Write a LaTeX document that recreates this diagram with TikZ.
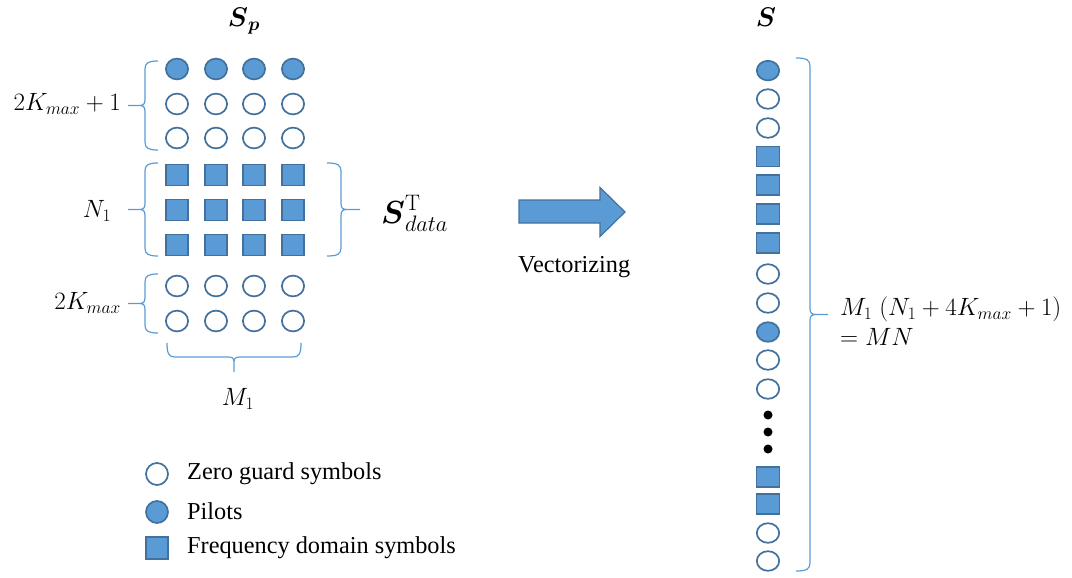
\RequirePackage{fix-cm}
\documentclass[tikz,border=0pt]{standalone}
\usepackage{amsmath}
\usepackage[no-math]{fontspec}
\setmainfont{Liberation Serif}
\definecolor{symfill}{HTML}{5B9BD5}
\definecolor{symline}{HTML}{41719C}
\definecolor{bracecol}{HTML}{5B9BD5}
\usetikzlibrary{shapes.geometric}

\tikzset{
  zero/.style={ellipse, draw=symline, line width=1.7pt, fill=white, minimum width=22.2pt, minimum height=20.8pt, inner sep=0pt},
  pilot/.style={zero, fill=symfill},
  freq/.style={rectangle, draw=symline, line width=1.7pt, fill=symfill, minimum width=22.2pt, minimum height=21pt, inner sep=0pt},
  vzero/.style={zero, minimum width=22.4pt, minimum height=19.6pt},
  vpilot/.style={vzero, fill=symfill},
  vfreq/.style={freq, minimum width=23pt, minimum height=19.8pt},
  dotmark/.style={circle, fill=black, minimum size=9pt, inner sep=0pt},
  mathlbl/.style={font=\fontsize{25}{29}\selectfont, inner sep=0pt},
  txtlbl/.style={font=\rmfamily\fontsize{24.3}{28}\selectfont, inner sep=0pt},
  brc/.style={draw=bracecol, line width=1.2pt},
}

% vertical curly brace: line at x=#1 from #2 to #3, tip reaching x=#4,
% end hooks of signed length #5 (positive: hooks point right)
\newcommand{\vbrace}[5]{%
  \pgfmathsetmacro\bm{(#2+#3)/2}%
  \pgfmathsetmacro\hk{#1+#5}%
  \pgfmathsetmacro\hc{#1+#5*0.25}%
  \pgfmathsetmacro\tc{#1-#5*0.15}%
  \pgfmathsetmacro\tb{#1-#5*0.45}%
  \draw[brc] (\hk,#2) .. controls (\hc,#2) and (#1,#2+2) .. (#1,#2+8)
    -- (#1,\bm-6) .. controls (#1,\bm-1) and (\tc,\bm) .. (\tb,\bm) -- (#4,\bm)
    (\tb,\bm) .. controls (\tc,\bm) and (#1,\bm+1) .. (#1,\bm+6)
    -- (#1,#3-8) .. controls (#1,#3-2) and (\hc,#3) .. (\hk,#3);
}

\begin{document}
\begin{tikzpicture}[x=1pt, y=-1pt]
\useasboundingbox (0,0) rectangle (1072,578);

% ---- frame S_p ----
\node[font=\fontsize{27}{31}\selectfont, inner sep=0pt] (sp) at (244,21) {$\boldsymbol{S}_{\boldsymbol{p}}$};

\foreach \c [count=\i] in {177,216,254,293} {
  \node[pilot] (a\i) at (\c,69) {};
  \node[zero]  (b\i) at (\c,104) {};
  \node[zero]  (c\i) at (\c,138) {};
  \node[freq]  (d\i) at (\c,175) {};
  \node[freq]  (e\i) at (\c,210) {};
  \node[freq]  (f\i) at (\c,245) {};
  \node[zero]  (g\i) at (\c,286) {};
  \node[zero]  (h\i) at (\c,321) {};
}

% braces around the frame
\vbrace{145}{61}{150}{128}{13}
\vbrace{145}{163}{256}{128}{13}
\vbrace{145}{274}{333}{128}{13}
\vbrace{341}{163}{256}{360}{-14}
\draw[brc] (167,343) .. controls (167,354) and (169,357) .. (175,357) -- (228,357)
  .. controls (232,357) and (234,358) .. (234,362) -- (234,372)
  (234,362) .. controls (234,358) and (236,357) .. (240,357) -- (293,357)
  .. controls (299,357) and (301,354) .. (301,343);

\node[mathlbl, anchor=east] (lk1) at (121,104) {$2K_{max}+1$};
\node[mathlbl] (ln1) at (97,211) {$N_1$};
\node[mathlbl, anchor=east] (lk2) at (121,303) {$2K_{max}$};
\node[mathlbl] (lm1) at (238,399) {$M_1$};
\node[font=\fontsize{32}{36}\selectfont, inner sep=0pt, anchor=west] (sd) at (381,213) {$\boldsymbol{S}_{data}^{\mathrm{T}}$};

% ---- vectorizing arrow ----
\draw[fill=symfill, draw=symline, line width=1.2pt]
  (519,200) -- (600,200) -- (600,187.5) -- (625,212) -- (600,236.5) -- (600,223) -- (519,223) -- cycle;
\node[txtlbl, anchor=west] (vec) at (518,267) {Vectorizing};

% ---- vector S ----
\node[font=\fontsize{27}{31}\selectfont, inner sep=0pt] (s) at (766,17) {$\boldsymbol{S}$};
\node[vpilot] (v1) at (768,70.6) {};
\node[vzero]  (v2) at (768,99) {};
\node[vzero]  (v3) at (768,128) {};
\node[vfreq]  (v4) at (768,156.5) {};
\node[vfreq]  (v5) at (768,185) {};
\node[vfreq]  (v6) at (768,214) {};
\node[vfreq]  (v7) at (768,243) {};
\node[vzero]  (v8) at (768,274) {};
\node[vzero]  (v9) at (768,303) {};
\node[vpilot] (v10) at (768,332) {};
\node[vzero]  (v11) at (768,360) {};
\node[vzero]  (v12) at (768,389) {};
\node[dotmark] (dt1) at (768,415) {};
\node[dotmark] (dt2) at (768,432) {};
\node[dotmark] (dt3) at (768,449) {};
\node[vfreq]  (v13) at (768,477) {};
\node[vfreq]  (v14) at (768,504) {};
\node[vzero]  (v15) at (768,533) {};
\node[vzero]  (v16) at (768,561) {};

\vbrace{810}{58}{571}{828}{-14}
\node[mathlbl, anchor=west] (len1) at (840,309) {$M_1\;(N_1+4K_{max}+1)$};
\node[mathlbl, anchor=west] (len2) at (840,337) {$=MN$};

% ---- legend ----
\node[zero, minimum width=22pt, minimum height=22pt] (k1) at (157,474) {};
\node[pilot, minimum width=22pt, minimum height=22pt] (k2) at (157,512) {};
\node[freq, minimum width=22pt, minimum height=22pt] (k3) at (157,548) {};
\node[txtlbl, anchor=west] (t1) at (187,474) {Zero guard symbols};
\node[txtlbl, anchor=west] (t2) at (187,511) {Pilots};
\node[txtlbl, anchor=west] (t3) at (187,548) {Frequency domain symbols};
\end{tikzpicture}
\end{document}
